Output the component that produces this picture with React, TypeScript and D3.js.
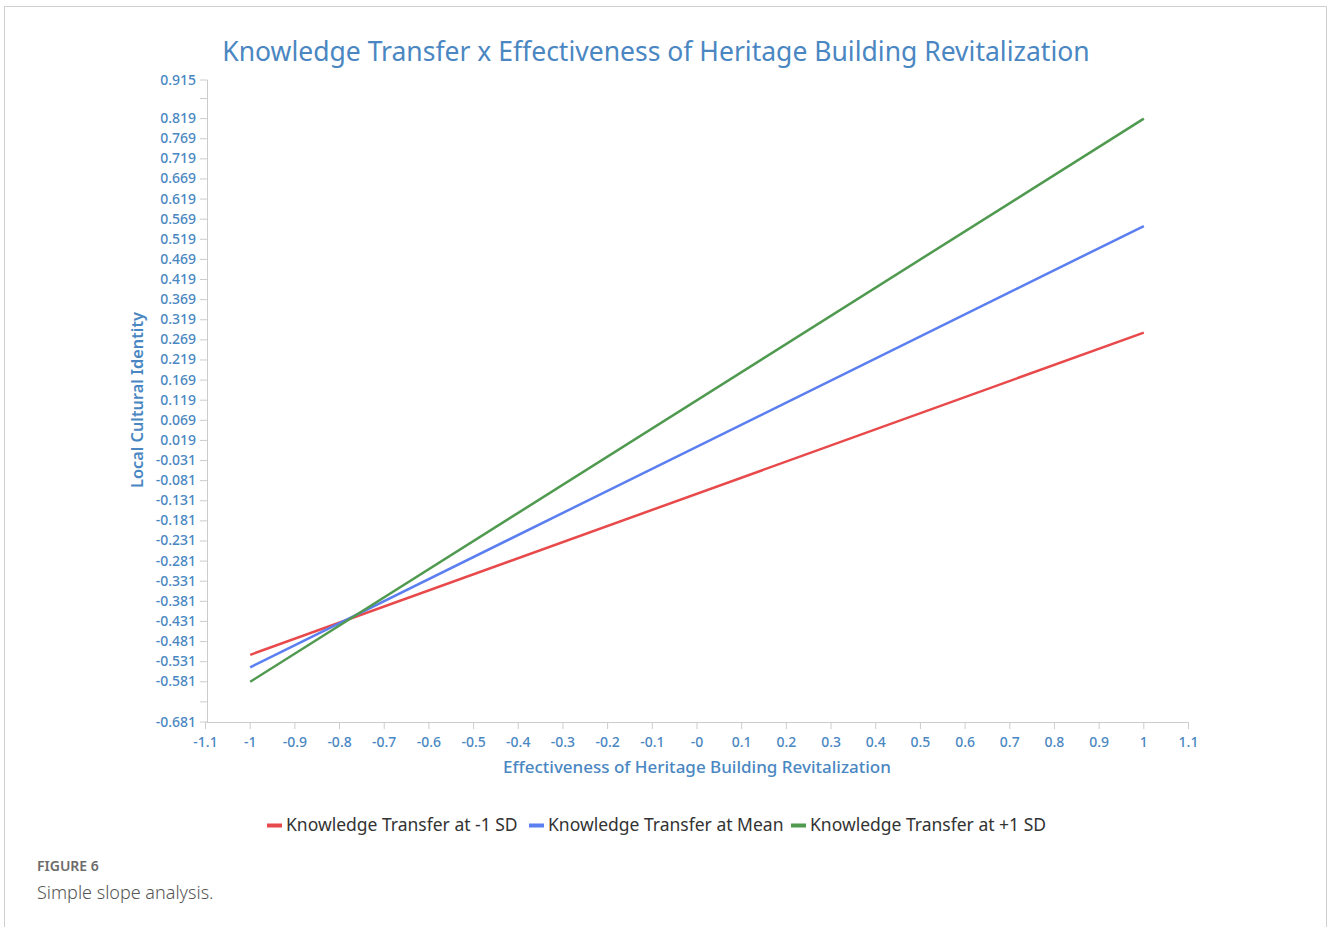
import React from "react";
import * as d3 from "d3";

const title = "Knowledge Transfer x Effectiveness of Heritage Building Revitalization";
const xLabel = "Effectiveness of Heritage Building Revitalization";
const yLabel = "Local Cultural Identity";

const seriesNames = ["Knowledge Transfer at -1 SD", "Knowledge Transfer at Mean", "Knowledge Transfer at +1 SD"];
const seriesColors = ["#e8494b", "#5b7ff0", "#4f9a4f"];
const xPoints = [-1, 1];
const lowSD = [-0.514, 0.287];
const meanSD = [-0.545, 0.552];
const highSD = [-0.581, 0.819];
const seriesValues = [lowSD, meanSD, highSD];

const xTicks = [-1.1, -1, -0.9, -0.8, -0.7, -0.6, -0.5, -0.4, -0.3, -0.2, -0.1, 0, 0.1, 0.2, 0.3, 0.4, 0.5, 0.6, 0.7, 0.8, 0.9, 1, 1.1];
const xTickLabels = ["-1.1", "-1", "-0.9", "-0.8", "-0.7", "-0.6", "-0.5", "-0.4", "-0.3", "-0.2", "-0.1", "-0", "0.1", "0.2", "0.3", "0.4", "0.5", "0.6", "0.7", "0.8", "0.9", "1", "1.1"];
const yTicks = [-0.681, -0.631, -0.581, -0.531, -0.481, -0.431, -0.381, -0.331, -0.281, -0.231, -0.181, -0.131, -0.081, -0.031, 0.019, 0.069, 0.119, 0.169, 0.219, 0.269, 0.319, 0.369, 0.419, 0.469, 0.519, 0.569, 0.619, 0.669, 0.719, 0.769, 0.819, 0.869, 0.915];
const yTickLabels = ["-0.681", "", "-0.581", "-0.531", "-0.481", "-0.431", "-0.381", "-0.331", "-0.281", "-0.231", "-0.181", "-0.131", "-0.081", "-0.031", "0.019", "0.069", "0.119", "0.169", "0.219", "0.269", "0.319", "0.369", "0.419", "0.469", "0.519", "0.569", "0.619", "0.669", "0.719", "0.769", "0.819", "", "0.915"];

const W = 1328, H = 927;
const blue = "#4a87c2";
const font = "'Noto Sans', 'Open Sans', sans-serif";

export default function App() {
  const x = d3.scaleLinear().domain([-1.1, 1.1]).range([205.5, 1188.5]);
  const y = d3.scaleLinear().domain([-0.681, 0.915]).range([722, 80]);
  const line = d3.line<[number, number]>().x(d => x(d[0])).y(d => y(d[1]));

  const legendX = [267, 529, 791];

  return (
    <svg width={W} height={H} style={{ position: "absolute", left: 0, top: 0 }} fontFamily={font}>
      <rect x={0} y={0} width={W} height={H} fill="#fff" />
      <path d={`M4.5,${H} V6.5 H1326.5 V${H}`} fill="none" stroke="#cfcfcf" strokeWidth={1} />
      <text x={656} y={61} textAnchor="middle" fontSize={26.5} fill={blue}>{title}</text>

      {/* y axis */}
      <line x1={207.5} x2={207.5} y1={y(0.915)} y2={722} stroke="#cccccc" />
      {yTicks.map((t, i) => (
        <g key={i}>
          <line x1={200} x2={207.5} y1={y(t)} y2={y(t)} stroke="#cccccc" />
          <text x={196} y={y(t) + 4.5} textAnchor="end" fontSize={14} fontWeight={500} fill={blue}>{yTickLabels[i]}</text>
        </g>
      ))}
      <text transform={`translate(143,400) rotate(-90)`} textAnchor="middle" fontSize={16.3} fontWeight={600} fill={blue}>{yLabel}</text>

      {/* x axis */}
      <line x1={x(-1.1)} x2={x(1.1)} y1={722.5} y2={722.5} stroke="#cccccc" />
      {xTicks.map((t, i) => (
        <g key={i}>
          <line x1={x(t)} x2={x(t)} y1={722.5} y2={729} stroke="#cccccc" />
          <text x={x(t)} y={747} textAnchor="middle" fontSize={14} fontWeight={500} fill={blue}>{xTickLabels[i]}</text>
        </g>
      ))}
      <text x={697} y={773} textAnchor="middle" fontSize={17} fontWeight={500} fill={blue}>{xLabel}</text>

      {/* lines */}
      {seriesValues.map((vals, i) => (
        <path key={i} d={line(xPoints.map((xv, j) => [xv, vals[j]] as [number, number])) || ""} fill="none" stroke={seriesColors[i]} strokeWidth={2.5} />
      ))}

      {/* legend */}
      {seriesNames.map((n, i) => (
        <g key={i}>
          <rect x={legendX[i]} y={823.5} width={15} height={4} fill={seriesColors[i]} />
          <text x={legendX[i] + 19} y={831} fontSize={17.5} fill="#333">{n}</text>
        </g>
      ))}

      {/* caption */}
      <text x={37} y={871} fontSize={14} fontWeight={600} fill="#6b6b6b">FIGURE 6</text>
      <text x={37} y={899} fontSize={18} fontWeight={300} fill="#555">Simple slope analysis.</text>
    </svg>
  );
}
